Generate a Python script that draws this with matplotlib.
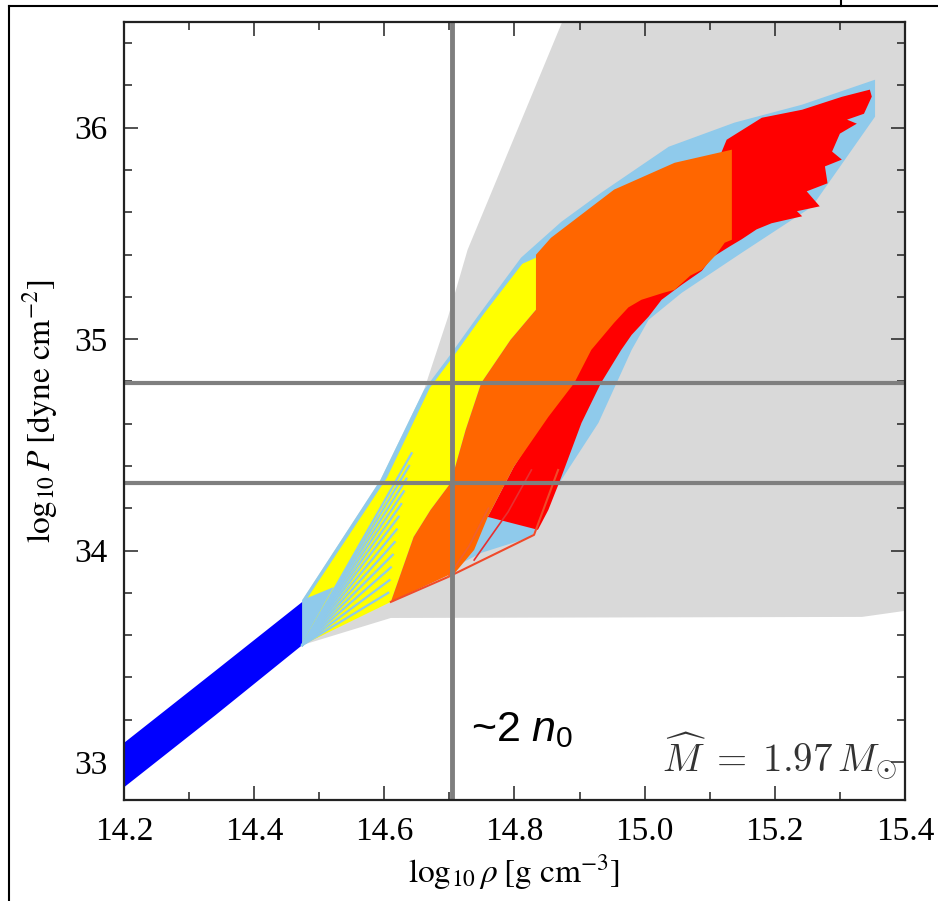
import matplotlib.pyplot as plt
from matplotlib.lines import Line2D

plt.rcParams['font.family'] = ['Liberation Serif', 'DejaVu Serif']
plt.rcParams['mathtext.fontset'] = 'stix'
plt.rcParams['mathtext.rm'] = 'Liberation Sans'
plt.rcParams['mathtext.it'] = 'Liberation Sans:italic'

# causal / allowed region (grey)
grey_x = [14.88, 14.728, 14.698, 14.661, 14.594, 14.474, 14.474, 14.610, 15.334, 15.41, 15.41]
grey_y = [36.55, 35.423, 35.106, 34.76, 34.334, 33.766, 33.553, 33.681, 33.686, 33.719, 36.55]

# crust band (blue)
crust_x = [14.2, 14.34, 14.474, 14.474, 14.34, 14.2]
crust_y = [33.09, 33.43, 33.757, 33.553, 33.22, 32.88]

# full envelope (light blue)
env_x = [14.474, 14.594, 14.661, 14.698, 14.744, 14.810, 14.872, 14.933, 15.037, 15.138, 15.242, 15.354,
         15.354, 15.257, 15.149, 15.057, 15.006, 14.980, 14.929, 14.872, 14.841, 14.826, 14.749, 14.610, 14.474]
env_y = [33.766, 34.334, 34.760, 34.912, 35.110, 35.385, 35.555, 35.692, 35.910, 36.024, 36.109, 36.227,
         36.052, 35.626, 35.408, 35.219, 35.091, 34.949, 34.604, 34.334, 34.159, 34.064, 33.989, 33.766, 33.553]

# yellow region
yel_x = [14.474, 14.482, 14.604, 14.670, 14.707, 14.753, 14.812, 14.833,
         14.833, 14.794, 14.749, 14.725, 14.702, 14.671, 14.645, 14.610]
yel_y = [33.553, 33.776, 34.344, 34.770, 34.922, 35.120, 35.356, 35.385,
         35.139, 34.997, 34.793, 34.571, 34.320, 34.192, 34.064, 33.757]

# orange region
ora_x = [14.610, 14.645, 14.671, 14.702, 14.725, 14.749, 14.794, 14.833, 14.833, 14.856, 14.953, 15.046,
         15.134, 15.134, 15.123, 15.110, 15.088, 15.070, 15.046, 15.030, 14.995, 14.975, 14.953, 14.918,
         14.892, 14.852, 14.799, 14.759, 14.738, 14.710]
ora_y = [33.757, 34.064, 34.192, 34.320, 34.571, 34.793, 34.997, 35.139, 35.399, 35.479, 35.707, 35.834,
         35.896, 35.470, 35.456, 35.40, 35.328, 35.30, 35.233, 35.22, 35.186, 35.15, 35.077, 34.949,
         34.793, 34.632, 34.396, 34.159, 34.003, 33.900]

# red region
red_x = [15.126, 15.180, 15.242, 15.303, 15.346, 15.349, 15.337, 15.311, 15.326, 15.300, 15.288, 15.303,
         15.277, 15.281, 15.249, 15.269, 15.234, 15.242, 15.195, 15.172, 15.149, 15.131, 15.103, 15.088,
         15.057, 15.026, 15.006, 14.980, 14.964, 14.933, 14.903, 14.872, 14.852, 14.836,
         14.759, 14.799, 14.933, 15.088]
red_y = [35.943, 36.047, 36.085, 36.146, 36.180, 36.147, 36.066, 36.038, 36.019, 35.972, 35.887, 35.849,
         35.817, 35.737, 35.699, 35.628, 35.605, 35.581, 35.548, 35.519, 35.472, 35.439, 35.385, 35.323,
         35.257, 35.186, 35.106, 35.020, 34.949, 34.793, 34.604, 34.348, 34.192, 34.098,
         34.159, 34.396, 35.044, 35.660]

# light blue wedge at the crust junction
wedge_x = [14.474, 14.474, 14.522]
wedge_y = [33.766, 33.562, 33.827]

# fan striations from the crust junction
fan_end_x = [14.606, 14.608, 14.610, 14.613, 14.616, 14.619, 14.622, 14.626, 14.630, 14.634, 14.638, 14.642]
fan_end_y = [33.80, 33.86, 33.92, 33.98, 34.04, 34.10, 34.16, 34.22, 34.28, 34.34, 34.40, 34.46]

# outlines of the lower right hull
out_a_x = [14.610, 14.698, 14.830, 14.867]
out_a_y = [33.757, 33.875, 34.074, 34.381]
out_b_x = [14.738, 14.790, 14.826]
out_b_y = [33.955, 34.182, 34.381]
out_c_x = [14.698, 14.730, 14.760]
out_c_y = [33.875, 34.02, 34.20]

n0_x = 14.704
hline_y = [34.793, 34.320]

fig = plt.figure(figsize=(9.38, 9.01), dpi=100)
ax = fig.add_axes([0.1322, 0.1121, 0.8326, 0.8635])

ax.fill(grey_x, grey_y, color='#d9d9d9', lw=0, zorder=1)
ax.fill(env_x, env_y, color='#8fcaeb', lw=0, zorder=2)
ax.fill(crust_x, crust_y, color='#0000ff', lw=0, zorder=3)
ax.fill(yel_x, yel_y, color='#ffff00', lw=0, zorder=3)
ax.fill(red_x, red_y, color='#ff0000', lw=0, zorder=3)
ax.fill(ora_x, ora_y, color='#ff6600', lw=0, zorder=4)
ax.fill(wedge_x, wedge_y, color='#8fcaeb', lw=0, zorder=4)
for ex, ey in zip(fan_end_x, fan_end_y):
    ax.plot([14.474, ex], [33.553, ey], color='#8fcaeb', lw=1.6, zorder=4)
ax.plot(out_a_x, out_a_y, color='#f04a2a', lw=1.5, zorder=5)
ax.plot(out_b_x, out_b_y, color='#e83030', lw=1.2, zorder=5)
ax.plot(out_c_x, out_c_y, color='#f06030', lw=1.2, zorder=5)

for hy in hline_y:
    ax.axhline(hy, color='#7f7f7f', lw=3, zorder=6)
ax.axvline(n0_x, color='#7f7f7f', lw=3.5, zorder=6)

ax.text(14.733, 33.10, '~2 $n_0$', fontsize=31, family='Liberation Sans',
        math_fontfamily='custom', zorder=7)
ax.text(15.388, 32.96, r'$\widehat{M}\;=\;1.97\,M_{\odot}$', fontsize=28, color='#333333',
        ha='right', math_fontfamily='cm', zorder=7)

ax.set_xlim(14.2, 15.4)
ax.set_ylim(32.82, 36.5)
ax.set_xticks([14.2, 14.4, 14.6, 14.8, 15.0, 15.2, 15.4])
ax.set_xticks([14.3, 14.5, 14.7, 14.9, 15.1, 15.3], minor=True)
ax.set_xticklabels(['14.2', '14.4', '14.6', '14.8', '15.0', '15.2', '15.4'])
ax.set_yticks([33, 34, 35, 36])
ax.set_yticks([33.2, 33.4, 33.6, 33.8, 34.2, 34.4, 34.6, 34.8, 35.2, 35.4, 35.6, 35.8, 36.2, 36.4], minor=True)
ax.tick_params(which='both', direction='in', top=True, right=True, labelsize=24, width=1.1, color='#222222')
ax.tick_params(which='major', length=10, pad=12)
ax.tick_params(which='minor', length=6)
for s in ax.spines.values():
    s.set_linewidth(1.6)
    s.set_color('#222222')
    s.set_zorder(8)

ax.set_xlabel(r'$\log_{10}\rho\;[\mathrm{g\ cm}^{-3}]$', fontsize=24, labelpad=4, math_fontfamily='stix')
ax.set_ylabel(r'$\log_{10}P\;[\mathrm{dyne\ cm}^{-2}]$', fontsize=24, labelpad=10, math_fontfamily='stix')

fig.add_artist(Line2D([9 / 938, 9 / 938], [0, 895 / 901], color='k', lw=1.5))
fig.add_artist(Line2D([9 / 938, 1], [895 / 901, 895 / 901], color='k', lw=1.5))
fig.add_artist(Line2D([841 / 938, 841 / 938], [895 / 901, 1], color='k', lw=1.5))

fig.savefig('out.png', dpi=100)
